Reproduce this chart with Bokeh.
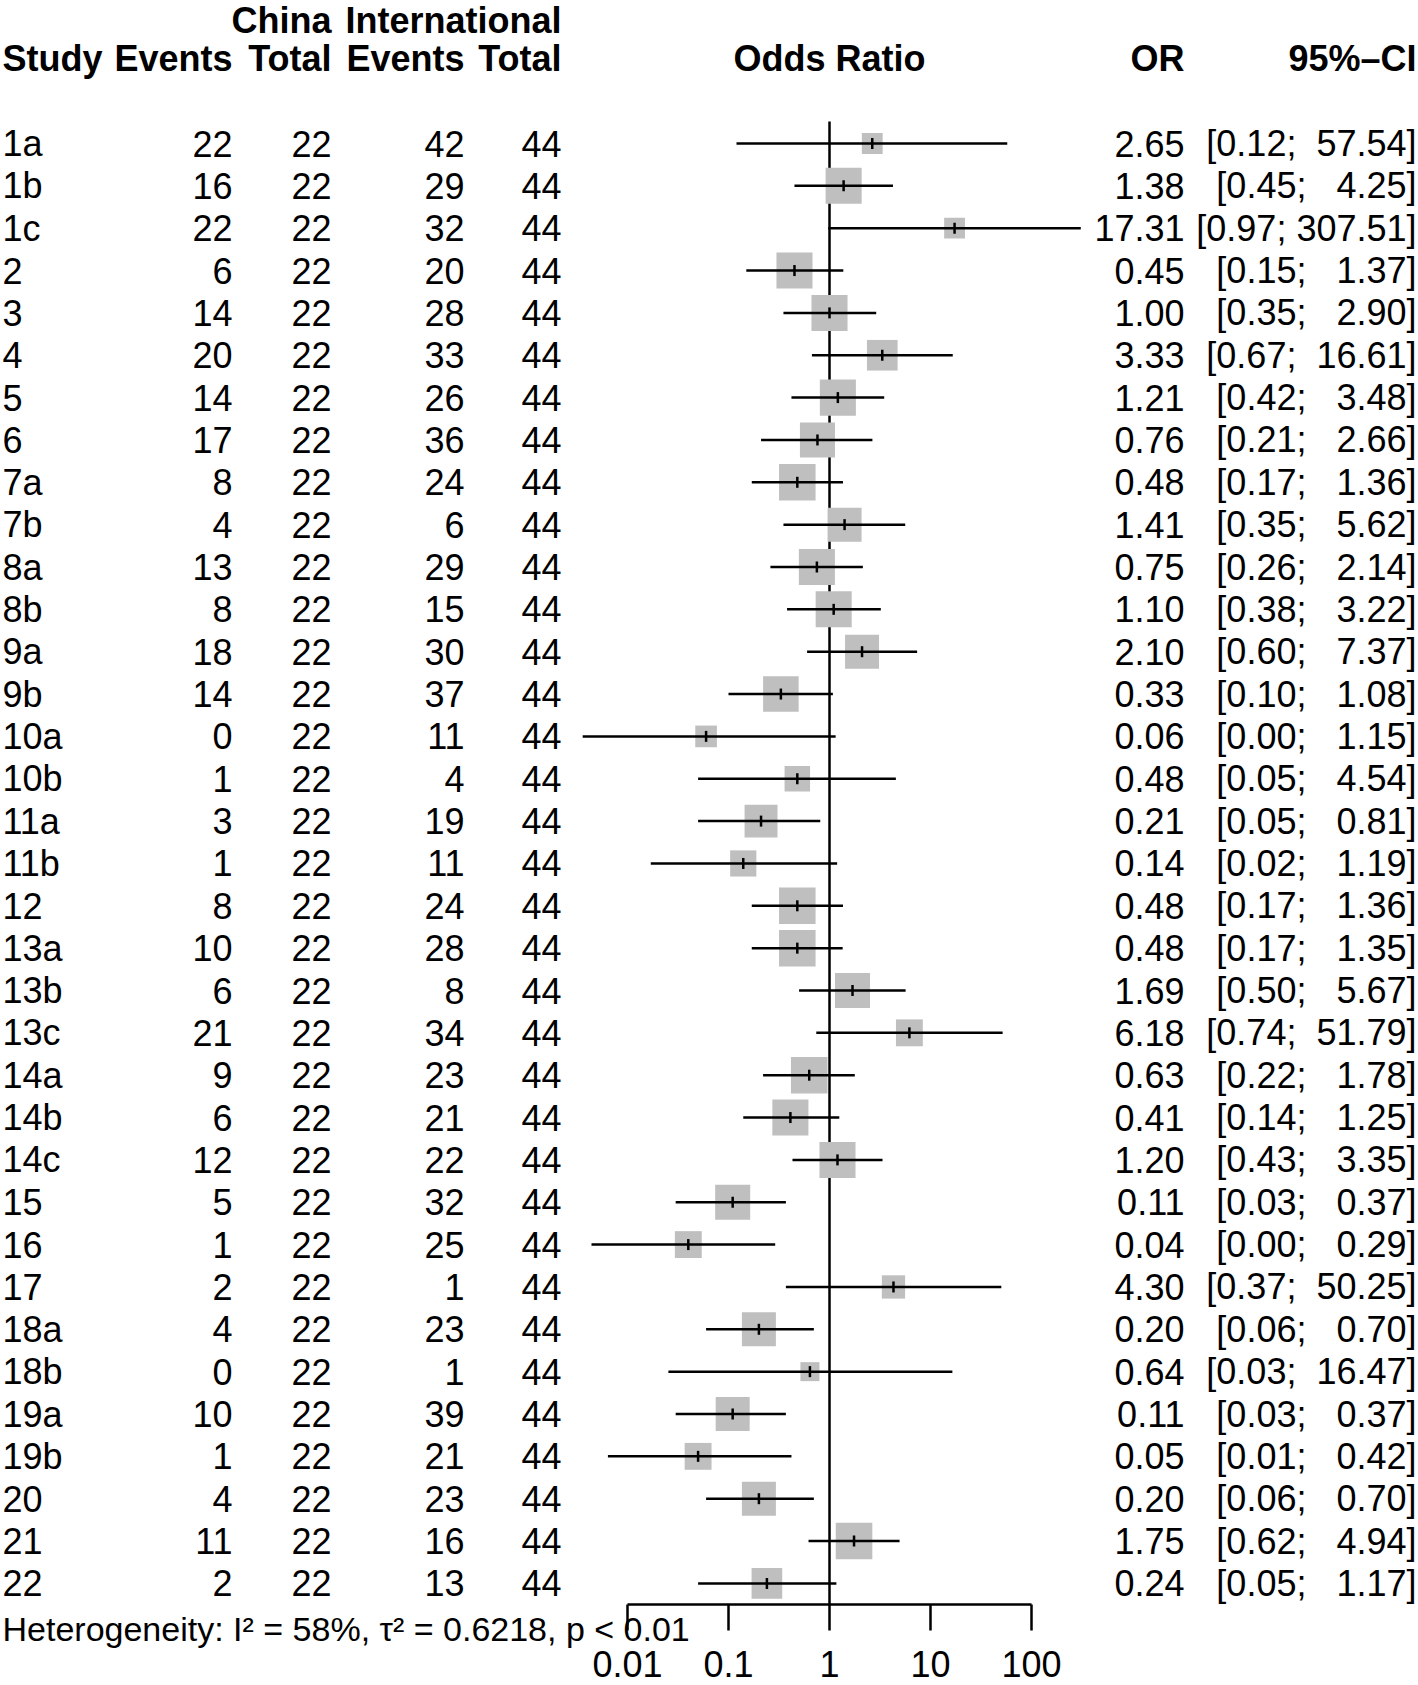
import numpy as np
from bokeh.plotting import figure
from bokeh.models import (Range1d, FixedTicker, Title, ColumnDataSource, LinearScale,
                          LogAxis)
from bokeh.core.properties import value
from bokeh.embed import file_html
from bokeh.resources import INLINE

# ---------------- data ----------------
study = ["1a", "1b", "1c", "2", "3", "4", "5", "6", "7a", "7b", "8a", "8b", "9a", "9b",
         "10a", "10b", "11a", "11b", "12", "13a", "13b", "13c", "14a", "14b", "14c",
         "15", "16", "17", "18a", "18b", "19a", "19b", "20", "21", "22"]
china_events = [22, 16, 22, 6, 14, 20, 14, 17, 8, 4, 13, 8, 18, 14, 0, 1, 3, 1, 8, 10,
                6, 21, 9, 6, 12, 5, 1, 2, 4, 0, 10, 1, 4, 11, 2]
china_total = [22] * 35
intl_events = [42, 29, 32, 20, 28, 33, 26, 36, 24, 6, 29, 15, 30, 37, 11, 4, 19, 11, 24, 28,
               8, 34, 23, 21, 22, 32, 25, 1, 23, 1, 39, 21, 23, 16, 13]
intl_total = [44] * 35
odds_ratio = [2.65, 1.38, 17.31, 0.45, 1.00, 3.33, 1.21, 0.76, 0.48, 1.41, 0.75, 1.10, 2.10,
              0.33, 0.06, 0.48, 0.21, 0.14, 0.48, 0.48, 1.69, 6.18, 0.63, 0.41, 1.20, 0.11,
              0.04, 4.30, 0.20, 0.64, 0.11, 0.05, 0.20, 1.75, 0.24]
ci_low = [0.12, 0.45, 0.97, 0.15, 0.35, 0.67, 0.42, 0.21, 0.17, 0.35, 0.26, 0.38, 0.60, 0.10,
          0.0036, 0.05, 0.05, 0.017, 0.17, 0.17, 0.50, 0.74, 0.22, 0.14, 0.43, 0.03, 0.0044,
          0.37, 0.06, 0.0254, 0.03, 0.0064, 0.06, 0.62, 0.05]
ci_high = [57.54, 4.25, 307.51, 1.37, 2.90, 16.61, 3.48, 2.66, 1.36, 5.62, 2.14, 3.22, 7.37,
           1.08, 1.15, 4.54, 0.81, 1.19, 1.36, 1.35, 5.67, 51.79, 1.78, 1.25, 3.35, 0.37,
           0.29, 50.25, 0.70, 16.47, 0.37, 0.42, 0.70, 4.94, 1.17]
weight = [1.2, 3.6, 1.2, 3.6, 3.6, 2.6, 3.6, 3.4, 3.7, 3.2, 3.6, 3.6, 3.2, 3.5, 1.3, 1.8,
          3.0, 1.9, 3.7, 3.7, 3.4, 2.0, 3.7, 3.6, 3.6, 3.4, 2.0, 1.5, 3.2, 1.0, 3.2, 2.0,
          3.2, 3.7, 2.6]
tick_values = [0.01, 0.1, 1, 10, 100]
tick_labels = ["0.01", "0.1", "1", "10", "100"]
heterogeneity = "Heterogeneity: I\u00b2 = 58%, \u03c4\u00b2 = 0.6218, p < 0.01"

# ---------------- layout constants ----------------
W, H = 1418, 1685
FRAME_BOTTOM = 1604          # px from top of figure where the axis line sits
ROW0 = 143.0                 # px of first study row
ROWH = 42.35                 # px per row
X001 = 627.0                 # px of OR = 0.01
DEC = 101.0                  # px per decade
FONT = "Liberation Sans"
FS = "36px"

y_top = -ROW0 / ROWH
y_bot = (FRAME_BOTTOM - ROW0) / ROWH
x_lo = 10 ** (-2 - X001 / DEC)
x_hi = 10 ** (-2 + (W - X001) / DEC)

p = figure(width=W, height=H, x_axis_type="log",
           x_range=Range1d(x_lo, x_hi), y_range=Range1d(y_bot, y_top),
           toolbar_location=None, output_backend="svg",
           min_border_left=0, min_border_right=0, min_border_top=0,
           min_border_bottom=H - FRAME_BOTTOM, y_axis_location=None,
           outline_line_color=None, background_fill_color="white",
           border_fill_color="white")
p.extra_x_ranges = {"px": Range1d(0, W)}
p.extra_x_scales = {"px": LinearScale()}
p.grid.grid_line_color = None

rows = list(range(len(study)))
sizes = [19.0 * np.sqrt(w) for w in weight]

def fmt(v):
    return f"{v:.2f}"

NB = "\u00a0"
ci_text = []
for lo, hi in zip(ci_low, ci_high):
    hs = fmt(hi)
    ci_text.append("[" + fmt(lo) + ";" + NB * (1 + 6 - len(hs)) + hs + "]")
or_text = [fmt(v) for v in odds_ratio]

src = ColumnDataSource(dict(
    y=rows, study=study,
    ce=[str(v) for v in china_events], ct=[str(v) for v in china_total],
    ie=[str(v) for v in intl_events], it=[str(v) for v in intl_total],
    orv=odds_ratio, lo=ci_low, hi=ci_high, size=sizes,
    ortxt=or_text, citxt=ci_text,
))

# reference line at OR = 1
p.segment(x0=[1], y0=[-0.52], x1=[1], y1=[y_bot], line_color="black", line_width=2.5)

# squares (weights)
p.scatter(x="orv", y="y", size="size", marker="square", source=src,
          fill_color="#BFBFBF", line_color=None)
# confidence intervals
p.segment(x0="lo", y0="y", x1="hi", y1="y", source=src, line_color="black", line_width=2.5)
# point estimate tick
p.scatter(x="orv", y="y", size=11, marker="dash", angle=np.pi / 2, source=src,
          line_color="black", line_width=2.5)

# ---------------- table texts ----------------
def col(field, x, align):
    p.text(x=x, y="y", text=field, source=src, x_range_name="px",
           text_font=value(FONT), text_font_size=FS, text_align=align,
           text_baseline="middle", text_color="black")

col("study", 2, "left")
col("ce", 232, "right")
col("ct", 331, "right")
col("ie", 464, "right")
col("it", 561, "right")
col("ortxt", 1184, "right")
col("citxt", 1416, "right")

# headers
h1_y = (20 - ROW0) / ROWH
h2_y = (58 - ROW0) / ROWH
p.text(x=[331, 561], y=[h1_y, h1_y], text=["China", "International"], x_range_name="px",
       text_font=value(FONT), text_font_size=FS, text_font_style="bold",
       text_align="right", text_baseline="middle")
p.text(x=[2], y=[h2_y], text=["Study"], x_range_name="px",
       text_font=value(FONT), text_font_size=FS, text_font_style="bold",
       text_align="left", text_baseline="middle")
p.text(x=[232, 331, 464, 561, 1184, 1416], y=[h2_y] * 6,
       text=["Events", "Total", "Events", "Total", "OR", "95%\u2013CI"], x_range_name="px",
       text_font=value(FONT), text_font_size=FS, text_font_style="bold",
       text_align="right", text_baseline="middle")
p.text(x=[1], y=[h2_y], text=["Odds Ratio"],
       text_font=value(FONT), text_font_size=FS, text_font_style="bold",
       text_align="center", text_baseline="middle")

# ---------------- axis (line + ticks) ----------------
ax = p.xaxis[0]
ax.ticker = FixedTicker(ticks=tick_values)
ax.major_label_overrides = {v: "" for v in tick_values}
ax.major_label_text_font_size = "0px"
ax.major_label_standoff = 0
ax.bounds = (0.01, 100)
ax.minor_tick_line_color = None
ax.major_tick_in = 0
ax.major_tick_out = 26
ax.major_tick_line_width = 2.5
ax.axis_line_width = 2.5
ax.axis_line_color = "black"
ax.major_tick_line_color = "black"

# heterogeneity statement, tucked up beside the ticks
p.add_layout(Title(text=heterogeneity, align="left", vertical_align="top", offset=2,
                   standoff=-42, text_font=FONT, text_font_size="34px",
                   text_font_style="normal", text_color="black"), "below")

# tick labels (second axis without line and ticks)
ax2 = LogAxis(ticker=FixedTicker(ticks=tick_values),
              major_label_overrides=dict(zip(tick_values, tick_labels)),
              axis_line_color=None, major_tick_line_color=None,
              minor_tick_line_color=None, major_tick_in=0, major_tick_out=0,
              major_label_standoff=20, major_label_text_font=FONT,
              major_label_text_font_size=FS, major_label_text_color="black")
p.add_layout(ax2, "below")

open("out.html", "w").write(file_html(p, INLINE))
